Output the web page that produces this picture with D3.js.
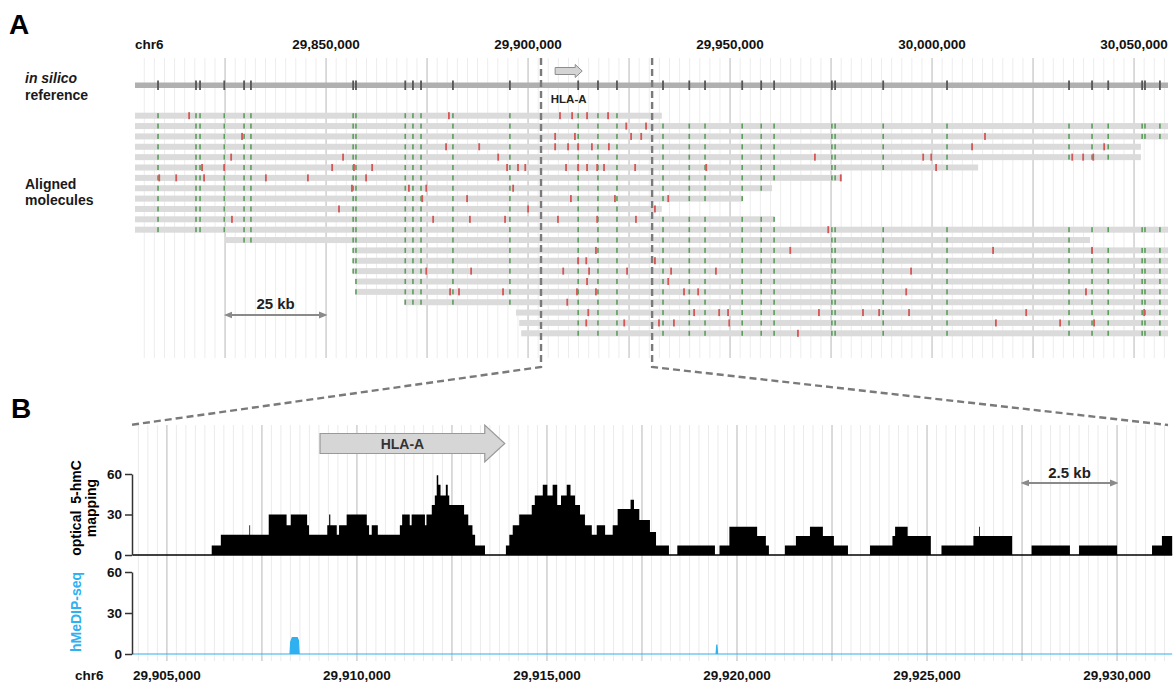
<!DOCTYPE html>
<html lang="en">
<head>
<meta charset="UTF-8" />
<title>HLA-A optical 5-hmC mapping</title>
<style>
  body { margin: 0; background: #fff; }
  svg { display: block; font-family: "Liberation Sans", Arial, sans-serif; }
  .tick-label { font-size: 13.5px; font-weight: bold; fill: #111; }
  .panel-letter { font-size: 28px; font-weight: bold; fill: #000; }
  .row-label { font-size: 14px; fill: #1a1a1a; }
</style>
</head>
<body>
<svg id="chart" width="1176" height="686"></svg>

<script src="https://d3js.org/d3.v7.min.js"></script>
<script>
  // all genomic positions are chr6, in kb

  // panel A: in silico reference label sites
  const refSites = [29808.4, 29817.8, 29818.8, 29824.8, 29829.7, 29831.4, 29856.7, 29857.4,
    29869.6, 29871.5, 29873.5, 29881.4, 29895.5, 29912.4, 29917.3, 29922.0, 29933.4, 29939.9,
    29943.8, 29953.0, 29957.7, 29960.9, 29975.2, 29976.0, 29987.9, 30003.7, 30033.9, 30039.6,
    30043.6, 30052.0, 30052.7, 30056.4];

  // aligned molecules (start / end) and their 5-hmC (red) labels
  const molStart = [29802.7, 29802.7, 29802.7, 29802.7, 29802.7, 29802.7, 29802.7, 29802.7,
    29802.7, 29802.7, 29802.7, 29802.7, 29825.0, 29856.7, 29856.7, 29856.7, 29857.2, 29857.2,
    29869.3, 29897.0, 29897.8, 29898.3];
  const molEnd = [29933.1, 30058.4, 30058.4, 30051.7, 30051.7, 30011.4, 29977.7, 29960.4,
    29953.0, 29933.1, 29960.9, 30058.4, 30039.1, 30058.4, 30058.4, 30058.4, 30058.4, 30058.4,
    30058.4, 30058.4, 30058.4, 30058.4];
  const molRed = [
    [29816.1, 29880.4, 29907.9, 29910.9, 29914.6, 29919.8],
    [29924.3, 29929.2],
    [29829.2, 29906.7, 29911.6, 29925.5, 29928.0, 30013.1],
    [29879.7, 29887.9, 29906.7, 29909.9, 29912.4, 29915.8, 29920.0, 30009.9, 30042.6],
    [29826.5, 29854.2, 29892.6, 29971.0, 29997.8, 29999.8, 30034.7, 30037.4, 30039.9],
    [29819.3, 29824.8, 29851.5, 29856.9, 29861.4, 29894.8, 29897.5, 29899.3, 29909.4, 29912.4,
      29914.6, 29917.1, 29918.8, 29926.5, 29944.1, 30001.0],
    [29808.7, 29812.9, 29819.8, 29835.1, 29845.5, 29859.9, 29977.4],
    [29856.4, 29870.5, 29874.8, 29896.3],
    [29873.8, 29884.9, 29910.6, 29921.5, 29934.7],
    [29853.2, 29900.0, 29931.4],
    [29826.7, 29876.5, 29885.6, 29894.3, 29907.4, 29917.1, 29926.7],
    [29974.3],
    [],
    [29916.8, 29964.9, 30015.1, 30039.6],
    [29912.4, 29914.4, 29931.4],
    [29874.8, 29885.9, 29908.7, 29915.1, 29924.5, 29935.4, 29946.5, 29994.8],
    [29914.6, 29934.7],
    [29880.7, 29882.9, 29893.8, 29912.1, 29916.8, 29938.6, 29942.1, 29993.6, 30038.1],
    [29909.7],
    [29914.9, 29941.1, 29947.3, 29949.5, 29972.0, 29982.9, 29986.9, 29994.3, 30023.3, 30052.5],
    [29914.4, 29923.8, 29932.4, 29936.1, 29949.8, 30015.8, 30031.7, 30040.1],
    [29966.8]
  ];

  const topTicks = [29850, 29900, 29950, 30000, 30050];
  const bottomTicks = [29905, 29910, 29915, 29920, 29925, 29930];
  const yTicks = [0, 30, 60];

  const gene = { name: "HLA-A", start: 29909.03, end: 29913.89 };
  const geneIconA = [29906.7, 29913.4];
  const zoomWindow = [29903.2, 29930.7];
  const scaleBarA = [29825, 29850];
  const scaleBarB = [29927.5, 29930];

  // panel B: optical 5-hmC coverage (step starts and values)
  const hmcPos = [29904.10, 29906.18, 29906.42, 29907.17, 29907.19, 29907.68, 29908.15, 29908.26,
    29908.69, 29908.74, 29909.22, 29909.27, 29909.30, 29909.47, 29909.53, 29909.73, 29910.26,
    29910.32, 29910.39, 29910.55, 29911.13, 29911.19, 29911.39, 29911.44, 29911.79, 29911.83,
    29911.97, 29912.05, 29912.10, 29912.14, 29912.20, 29912.34, 29912.39, 29912.43, 29912.82,
    29912.93, 29913.04, 29913.11, 29913.37, 29913.92, 29914.01, 29914.10, 29914.27, 29914.60,
    29914.68, 29914.89, 29915.01, 29915.15, 29915.27, 29915.37, 29915.52, 29915.62, 29915.74,
    29915.87, 29916.00, 29916.18, 29916.31, 29916.53, 29916.73, 29916.86, 29917.20, 29917.29,
    29917.43, 29917.71, 29917.87, 29918.21, 29918.43, 29919.42, 29919.54, 29919.80, 29920.53,
    29920.76, 29920.84, 29921.26, 29921.55, 29921.92, 29922.26, 29922.55, 29922.92, 29923.50,
    29924.09, 29924.16, 29924.49, 29925.10, 29925.38, 29926.22, 29926.37, 29926.39, 29927.24,
    29927.75, 29928.76, 29929.00, 29930.00, 29930.92, 29931.18, 29931.45];
  const hmcVal = [0, 7, 15, 22, 15, 30, 22, 30, 22, 15, 22, 30, 22, 15, 22, 30, 22, 15, 22, 15,
    22, 30, 22, 30, 22, 30, 37, 44, 59, 52, 44, 52, 44, 37, 30, 22, 15, 7, 0, 7,
    15, 22, 30, 37, 44, 52, 44, 52, 37, 44, 52, 44, 37, 30, 22, 15, 22, 15, 22, 34,
    41, 34, 26, 17, 7, 0, 7, 0, 7, 21, 14, 7, 0, 7, 14, 21, 14, 7, 0, 7,
    14, 21, 14, 0, 7, 14, 21, 14, 0, 7, 0, 7, 0, 7, 14, 14];

  // panel B: hMeDIP-seq signal
  const hmedipPos = [29904.10, 29908.24, 29908.26, 29908.30, 29908.43, 29908.46, 29908.48,
    29919.45, 29919.47, 29919.49, 29931.45];
  const hmedipVal = [0, 0, 9, 12, 12, 10, 0, 0, 7, 0, 0];

  const svg = d3.select("#chart");

  const xA = d3.scaleLinear().domain([29802.7, 30058.4]).range([135, 1168]);
  const xB = d3.scaleLinear().domain([29904.03, 29931.34]).range([130, 1168]);
  const rowY = d3.scalePoint().domain(d3.range(molStart.length)).range([115.7, 333.3]);
  const yTop = d3.scaleLinear().domain([0, 60]).range([555, 474]);
  const yBot = d3.scaleLinear().domain([0, 60]).range([654, 572]);

  const defs = svg.append("defs");
  ["start", "end"].forEach(k => {
    defs.append("marker")
      .attr("id", "arr-" + k)
      .attr("viewBox", "0 0 10 10")
      .attr("refX", 5).attr("refY", 5)
      .attr("markerWidth", 4).attr("markerHeight", 4)
      .attr("orient", k === "end" ? "auto" : "auto-start-reverse")
      .append("path")
      .attr("d", "M0,1 L10,5 L0,9 Z")
      .attr("fill", "#8a8a8a");
  });

  const isMajor = (v, step) => Math.abs(v / step - Math.round(v / step)) < 1e-6;

  // ---------- panel A ----------
  svg.append("text").attr("class", "panel-letter").attr("x", 9).attr("y", 34).text("A");

  const gridA = d3.range(Math.ceil(29802.7 / 2.5), Math.floor(30058.4 / 2.5) + 1).map(i => i * 2.5);
  svg.append("g").selectAll("line")
    .data(gridA)
    .join("line")
    .attr("x1", d => xA(d)).attr("x2", d => xA(d))
    .attr("y1", 58).attr("y2", 358)
    .attr("stroke", d => isMajor(d, 25) ? "#d2d2d2" : "#ededed")
    .attr("stroke-width", d => isMajor(d, 25) ? 1.6 : 1);

  svg.append("text").attr("class", "tick-label").attr("x", 135).attr("y", 49).text("chr6");
  svg.append("g").selectAll("text")
    .data(topTicks)
    .join("text")
    .attr("class", "tick-label")
    .attr("x", d => xA(d)).attr("y", 49)
    .attr("text-anchor", "middle")
    .text(d => d3.format(",")(d * 1000));

  // in silico reference
  svg.append("rect")
    .attr("x", xA(29802.7)).attr("width", xA(30058.4) - xA(29802.7))
    .attr("y", 82.5).attr("height", 5.5)
    .attr("fill", "#b0b0b0");
  svg.append("g").selectAll("rect")
    .data(refSites)
    .join("rect")
    .attr("x", d => xA(d) - 0.9).attr("width", 1.8)
    .attr("y", 80.5).attr("height", 9.5)
    .attr("fill", "#555");

  svg.append("text").attr("class", "row-label").attr("x", 25).attr("y", 83)
    .style("font-style", "italic").style("font-weight", "bold").text("in silico");
  svg.append("text").attr("class", "row-label").attr("x", 25).attr("y", 100)
    .style("font-weight", "bold").text("reference");
  svg.append("text").attr("class", "row-label").attr("x", 25).attr("y", 189)
    .style("font-weight", "bold").text("Aligned");
  svg.append("text").attr("class", "row-label").attr("x", 25).attr("y", 205)
    .style("font-weight", "bold").text("molecules");

  // gene icon in panel A
  const gA0 = xA(geneIconA[0]), gA1 = xA(geneIconA[1]);
  svg.append("path")
    .attr("d", `M${gA0},67.5 H${gA1 - 7} V64.5 L${gA1},71 L${gA1 - 7},77.5 V74.5 H${gA0} Z`)
    .attr("fill", "#d4d4d4").attr("stroke", "#8c8c8c").attr("stroke-width", 1);
  svg.append("text")
    .attr("x", (gA0 + gA1) / 2).attr("y", 103)
    .attr("text-anchor", "middle")
    .style("font-size", "11.5px").style("font-weight", "bold").style("fill", "#222")
    .text(gene.name);

  // molecules
  const mols = molStart.map((s, i) => ({ i, s, e: molEnd[i], red: molRed[i] }));
  const molG = svg.append("g");
  molG.selectAll("rect.mol")
    .data(mols)
    .join("rect")
    .attr("class", "mol")
    .attr("x", d => xA(d.s)).attr("width", d => xA(d.e) - xA(d.s))
    .attr("y", d => rowY(d.i) - 3).attr("height", 6)
    .attr("fill", "#dbdbdb");

  const greenMarks = mols.flatMap(m => refSites.filter(p => p >= m.s && p <= m.e).map(p => ({ i: m.i, p })));
  molG.selectAll("rect.g")
    .data(greenMarks)
    .join("rect")
    .attr("class", "g")
    .attr("x", d => xA(d.p) - 0.8).attr("width", 1.6)
    .attr("y", d => rowY(d.i) - 2.5).attr("height", 5)
    .attr("fill", "#5c9e5c");

  const redMarks = mols.flatMap(m => m.red.map(p => ({ i: m.i, p })));
  molG.selectAll("rect.r")
    .data(redMarks)
    .join("rect")
    .attr("class", "r")
    .attr("x", d => xA(d.p) - 0.9).attr("width", 1.8)
    .attr("y", d => rowY(d.i) - 3.5).attr("height", 7)
    .attr("fill", "#d45656");

  // 25 kb scale bar
  svg.append("line")
    .attr("x1", xA(scaleBarA[0]) + 3).attr("x2", xA(scaleBarA[1]) - 3)
    .attr("y1", 315).attr("y2", 315)
    .attr("stroke", "#8a8a8a").attr("stroke-width", 2.2)
    .attr("marker-start", "url(#arr-start)").attr("marker-end", "url(#arr-end)");
  svg.append("text")
    .attr("x", (xA(scaleBarA[0]) + xA(scaleBarA[1])) / 2).attr("y", 309)
    .attr("text-anchor", "middle")
    .style("font-size", "15px").style("font-weight", "bold").style("fill", "#222")
    .text("25 kb");

  // ---------- panel B ----------
  svg.append("text").attr("class", "panel-letter").attr("x", 11).attr("y", 418).text("B");

  const gridB = d3.range(Math.ceil(29904.1 / 0.25), Math.floor(29931.4 / 0.25) + 1).map(i => i * 0.25);
  svg.append("g").selectAll("line")
    .data(gridB)
    .join("line")
    .attr("x1", d => xB(d)).attr("x2", d => xB(d))
    .attr("y1", 425).attr("y2", 661)
    .attr("stroke", d => isMajor(d, 2.5) ? "#d2d2d2" : "#ebebeb")
    .attr("stroke-width", d => isMajor(d, 2.5) ? 1.6 : 1);

  // dashed zoom connectors
  const dash = svg.append("g")
    .attr("fill", "none").attr("stroke", "#7a7a7a")
    .attr("stroke-width", 2.4).attr("stroke-dasharray", "7,4");
  dash.append("path")
    .attr("d", `M${xA(zoomWindow[0])},58 V367 L${xB.range()[0]},425`);
  dash.append("path")
    .attr("d", `M${xA(zoomWindow[1])},58 V367 L${xB.range()[1]},425`);

  // gene arrow
  const g0 = xB(gene.start), g1 = xB(gene.end);
  svg.append("path")
    .attr("d", `M${g0},433.5 H${g1 - 20} V425 L${g1},443.5 L${g1 - 20},462 V453.5 H${g0} Z`)
    .attr("fill", "#d6d6d6").attr("stroke", "#999").attr("stroke-width", 1.2);
  svg.append("text")
    .attr("x", (g0 + g1 - 20) / 2).attr("y", 448.5)
    .attr("text-anchor", "middle")
    .style("font-size", "14px").style("font-weight", "bold").style("fill", "#333")
    .text(gene.name);

  // optical 5-hmC histogram
  const hmc = hmcPos.map((p, i) => ({ p, v: hmcVal[i] }));
  svg.append("path")
    .datum(hmc)
    .attr("fill", "#000")
    .attr("d", d3.area().curve(d3.curveStepAfter)
      .x(d => xB(d.p)).y0(yTop(0)).y1(d => yTop(d.v)));
  svg.append("line")
    .attr("x1", xB(hmcPos[0])).attr("x2", xB(hmcPos[hmcPos.length - 1]))
    .attr("y1", yTop(0)).attr("y2", yTop(0))
    .attr("stroke", "#000").attr("stroke-width", 1.5);

  // hMeDIP-seq
  const hmedip = hmedipPos.map((p, i) => ({ p, v: hmedipVal[i] }));
  svg.append("path")
    .datum(hmedip)
    .attr("fill", "#2fb0f0")
    .attr("stroke", "#2fb0f0").attr("stroke-width", 1.2)
    .attr("d", d3.area().x(d => xB(d.p)).y0(yBot(0)).y1(d => yBot(d.v)));

  // y axes
  function yAxis(scale) {
    const ax = svg.append("g")
      .attr("transform", "translate(132,0)")
      .call(d3.axisLeft(scale).tickValues(yTicks).tickSize(7).tickSizeOuter(0).tickPadding(3));
    ax.select(".domain").attr("stroke", "#333").attr("stroke-width", 1.5);
    ax.selectAll(".tick line").attr("stroke", "#333").attr("stroke-width", 1.5);
    ax.selectAll(".tick text")
      .attr("fill", "#111")
      .style("font-size", "13.5px").style("font-weight", "bold")
      .style("font-family", "'Liberation Sans', Arial, sans-serif");
  }
  yAxis(yTop);
  yAxis(yBot);

  const yTitle = svg.append("g")
    .style("font-size", "14px").style("font-weight", "bold");
  yTitle.append("text")
    .attr("transform", "translate(81,508) rotate(-90)")
    .attr("text-anchor", "middle").attr("fill", "#000")
    .style("word-spacing", "3px")
    .text("optical 5-hmC");
  yTitle.append("text")
    .attr("transform", "translate(96,508) rotate(-90)")
    .attr("text-anchor", "middle").attr("fill", "#000")
    .text("mapping");
  yTitle.append("text")
    .attr("transform", "translate(81,612) rotate(-90)")
    .attr("text-anchor", "middle").attr("fill", "#2fb0f0")
    .text("hMeDIP-seq");

  // 2.5 kb scale bar
  svg.append("line")
    .attr("x1", xB(scaleBarB[0]) + 3).attr("x2", xB(scaleBarB[1]) - 3)
    .attr("y1", 483).attr("y2", 483)
    .attr("stroke", "#8a8a8a").attr("stroke-width", 2.2)
    .attr("marker-start", "url(#arr-start)").attr("marker-end", "url(#arr-end)");
  svg.append("text")
    .attr("x", (xB(scaleBarB[0]) + xB(scaleBarB[1])) / 2).attr("y", 478)
    .attr("text-anchor", "middle")
    .style("font-size", "15px").style("font-weight", "bold").style("fill", "#222")
    .text("2.5 kb");

  // bottom axis labels
  svg.append("text").attr("class", "tick-label").attr("x", 75).attr("y", 680).text("chr6");
  svg.append("g").selectAll("text")
    .data(bottomTicks)
    .join("text")
    .attr("class", "tick-label")
    .attr("x", d => xB(d)).attr("y", 680)
    .attr("text-anchor", "middle")
    .text(d => d3.format(",")(d * 1000));
</script>
</body>
</html>
